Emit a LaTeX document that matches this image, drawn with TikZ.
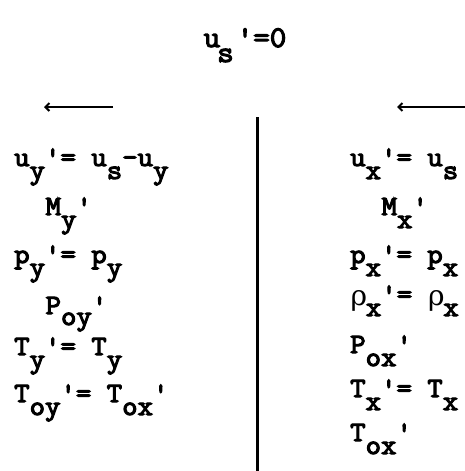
\documentclass[tikz,border=0pt]{standalone}
\usepackage{fontspec}
\usetikzlibrary{arrows.meta}
\newfontfamily\typewr{Latin Modern Mono}[FakeStretch=1.07,FakeBold=4]
\newfontfamily\greekf{DejaVu Serif}
% lowered subscript, typed at full size half a line down
\newcommand\lowr[2][13pt]{\raisebox{-#1}{#2}}
\newcommand\rh{\makebox[15.7pt][l]{\kern0.5pt\raisebox{-2pt}{\resizebox{!}{15pt}{\greekf ρ}}}}

\begin{document}
\begin{tikzpicture}[
  x=1pt, y=-1pt,
  eqrow/.style={anchor=base west, inner sep=0pt,
    font=\fontsize{28}{30}\typewr\selectfont},
  titlerow/.style={anchor=base west, inner sep=0pt,
    font=\fontsize{30}{32}\typewr\selectfont},
  flowarrow/.style={line width=2pt, -{Straight Barb[length=4pt,width=8pt]}},
  wall/.style={line width=3pt},
]
\useasboundingbox (0,0) rectangle (465,471);

%%% Shock frame condition %%%
\node[titlerow] (shockvel) at (203.5,47) {u\kern-3pt\raisebox{-15pt}{s}\kern3pt'=0};

%%% Flow direction arrows %%%
\coordinate (lefttail) at (113,107);
\coordinate (lefthead) at (44,107);
\coordinate (righttail) at (465,107);
\coordinate (righthead) at (397,107);
\draw[flowarrow] (lefttail) -- (lefthead);
\draw[flowarrow] (righttail) -- (righthead);

%%% Shock wall %%%
\coordinate (walltop) at (257,117);
\coordinate (wallbot) at (257,471);
\draw[wall] (walltop) -- (wallbot);

%%% Downstream (y) side %%%
\node[eqrow] (uy)  at (14,166)   {u\lowr{y}'= u\lowr{s}-u\lowr{y}};
\node[eqrow] (My)  at (45.4,215) {M\lowr{y}'};
\node[eqrow] (py)  at (14,263)   {p\lowr{y}'= p\lowr{y}};
\node[eqrow] (Poy) at (45.4,314) {P\lowr[11pt]{oy}'};
\node[eqrow] (Ty)  at (14,355)   {T\lowr{y}'= T\lowr{y}};
\node[eqrow] (Toy) at (14,402)   {T\lowr{oy}'= T\lowr{ox}'};

%%% Upstream (x) side %%%
\node[eqrow] (ux)   at (350,166)   {u\lowr{x}'= u\lowr{s}};
\node[eqrow] (Mx)   at (381.4,215) {M\lowr{x}'};
\node[eqrow] (px)   at (350,263)   {p\lowr{x}'= p\lowr{x}};
\node[eqrow] (rhox) at (350,303)   {\rh\lowr{x}'= \rh\lowr{x}};
\node[eqrow] (Pox)  at (350,353)   {P\lowr{ox}'};
\node[eqrow] (Tx)   at (350,397)   {T\lowr{x}'= T\lowr{x}};
\node[eqrow] (Tox)  at (350,441)   {T\lowr{ox}'};

\end{tikzpicture}
\end{document}
